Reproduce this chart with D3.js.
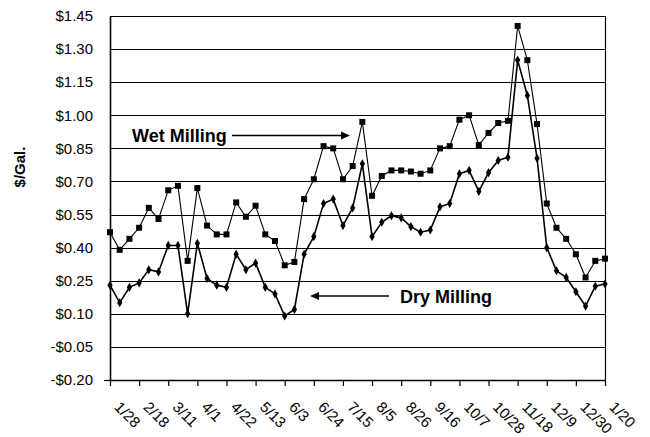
<!DOCTYPE html>
<html>
<head>
<meta charset="utf-8">
<script src="https://cdn.jsdelivr.net/npm/d3@7"></script>
<style>
  html, body { margin: 0; padding: 0; background: #fff; }
  svg { display: block; }
  text { font-family: "Liberation Sans", Arial, sans-serif; fill: #000; }
</style>
</head>
<body>
<svg id="chart" width="650" height="437"></svg>
<script>
// Weekly ethanol production margin, $ per gallon
const weeks = ["1/28","2/4","2/11","2/18","2/25","3/4","3/11","3/18","3/25","4/1","4/8","4/15",
  "4/22","4/29","5/6","5/13","5/20","5/27","6/3","6/10","6/17","6/24","7/1","7/8","7/15",
  "7/22","7/29","8/5","8/12","8/19","8/26","9/2","9/9","9/16","9/23","9/30","10/7","10/14",
  "10/21","10/28","11/4","11/11","11/18","11/25","12/2","12/9","12/16","12/23","12/30",
  "1/6","1/13","1/20"];

const wetMilling = [0.47,0.39,0.44,0.49,0.58,0.53,0.66,0.68,0.34,0.67,0.50,0.46,0.46,
  0.605,0.54,0.59,0.46,0.43,0.32,0.335,0.62,0.71,0.86,0.85,0.71,0.77,
  0.97,0.635,0.725,0.75,0.75,0.745,0.735,0.75,0.85,0.86,0.98,1.00,
  0.865,0.92,0.965,0.975,1.405,1.25,0.96,0.60,0.49,0.44,0.37,0.265,0.34,0.35];

const dryMilling = [0.23,0.15,0.22,0.24,0.30,0.29,0.41,0.41,0.10,0.42,0.26,0.23,0.22,
  0.37,0.30,0.33,0.22,0.19,0.09,0.12,0.37,0.45,0.60,0.62,0.50,0.58,
  0.78,0.45,0.515,0.545,0.535,0.495,0.47,0.48,0.585,0.60,0.735,0.75,
  0.655,0.74,0.795,0.81,1.25,1.09,0.805,0.40,0.295,0.265,0.20,0.135,0.225,0.235];

const yTicks = [-0.20,-0.05,0.10,0.25,0.40,0.55,0.70,0.85,1.00,1.15,1.30,1.45];
const xTickLabels = ["1/28","2/18","3/11","4/1","4/22","5/13","6/3","6/24","7/15","8/5",
  "8/26","9/16","10/7","10/28","11/18","12/9","12/30","1/20"];

const svg = d3.select("#chart");
const plotLeft = 110, plotRight = 605, plotTop = 16, plotBottom = 380;

const x = d3.scalePoint().domain(weeks).range([plotLeft, plotRight]);
const y = d3.scaleLinear().domain([-0.20, 1.45]).range([plotBottom, plotTop]);

const fmt = v => (v < 0 ? "-$" : "$") + Math.abs(v).toFixed(2);

// horizontal gridlines
svg.append("g").selectAll("line").data(yTicks).join("line")
  .attr("x1", plotLeft).attr("x2", plotRight)
  .attr("y1", d => Math.round(y(d)) + 0.5).attr("y2", d => Math.round(y(d)) + 0.5)
  .attr("stroke", "#000").attr("stroke-width", 1);

// plot frame (right edge)
svg.append("line")
  .attr("x1", plotRight + 0.5).attr("x2", plotRight + 0.5).attr("y1", plotTop).attr("y2", plotBottom)
  .attr("stroke", "#000").attr("stroke-width", 1.2);

// y axis
const yAxis = d3.axisLeft(y).tickValues(yTicks).tickFormat(fmt).tickSize(0).tickPadding(17);
const gy = svg.append("g").attr("transform", `translate(${plotLeft},0)`).call(yAxis);
gy.select(".domain").attr("stroke", "#000").attr("stroke-width", 1.6);
gy.selectAll("text").style("font-size", "15px").style("font-family", "'Liberation Sans', Arial, sans-serif");

// x axis: a tick every third week
const xAxis = d3.axisBottom(x).tickValues(xTickLabels.map((d, i) => weeks[i * 3]))
  .tickSize(6).tickSizeOuter(0).tickFormat((d, i) => xTickLabels[i]);
const gx = svg.append("g").attr("transform", `translate(0,${plotBottom})`).call(xAxis);
gx.select(".domain").attr("stroke", "#000").attr("stroke-width", 1.6);
gx.selectAll(".tick line").attr("stroke", "#000").attr("stroke-width", 1.2);
gx.selectAll("text")
  .style("font-size", "15px").style("font-family", "'Liberation Sans', Arial, sans-serif")
  .attr("text-anchor", "start").attr("dy", null).attr("y", null)
  .attr("transform", "translate(3,28) rotate(45)");

svg.append("line").attr("x1", plotLeft - 6).attr("x2", plotLeft).attr("y1", plotBottom + 0.5).attr("y2", plotBottom + 0.5)
  .attr("stroke", "#000").attr("stroke-width", 1.2);

// y axis title
svg.append("text")
  .attr("transform", "translate(25,167) rotate(-90)")
  .attr("text-anchor", "middle")
  .style("font-size", "15px").style("font-weight", "bold")
  .text("$/Gal.");

// series lines and markers
const line = d3.line().x((d, i) => x(weeks[i])).y(d => y(d));

svg.append("path").datum(wetMilling).attr("d", line)
  .attr("fill", "none").attr("stroke", "#000").attr("stroke-width", 1.1);
svg.append("path").datum(dryMilling).attr("d", line)
  .attr("fill", "none").attr("stroke", "#000").attr("stroke-width", 1.6);

svg.append("g").selectAll("rect").data(wetMilling).join("rect")
  .attr("x", (d, i) => x(weeks[i]) - 3).attr("y", d => y(d) - 3)
  .attr("width", 6).attr("height", 6).attr("fill", "#000");

const diamond = d3.symbol().type(d3.symbolDiamond).size(24);
svg.append("g").selectAll("path").data(dryMilling).join("path")
  .attr("transform", (d, i) => `translate(${x(weeks[i])},${y(d)})`)
  .attr("d", diamond).attr("fill", "#000");

// callouts
function arrow(x1, x2, yy) {
  const dir = Math.sign(x2 - x1);
  svg.append("line").attr("x1", x1).attr("x2", x2 - dir * 7).attr("y1", yy).attr("y2", yy)
    .attr("stroke", "#000").attr("stroke-width", 1.6);
  svg.append("path")
    .attr("d", `M${x2},${yy} L${x2 - dir * 9},${yy - 4} L${x2 - dir * 9},${yy + 4} Z`)
    .attr("fill", "#000");
}

svg.append("text").attr("x", 132).attr("y", 141.5)
  .style("font-size", "18px").style("font-weight", "bold").text("Wet Milling");
arrow(232, 350, 135.5);

svg.append("text").attr("x", 400).attr("y", 302.5)
  .style("font-size", "18px").style("font-weight", "bold").text("Dry Milling");
arrow(389, 310, 296);
</script>
</body>
</html>
